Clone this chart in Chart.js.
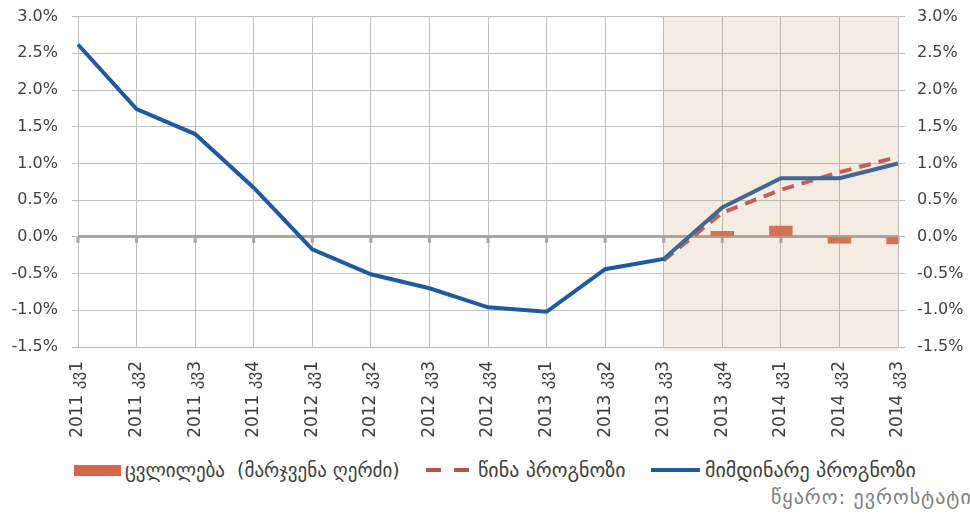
<!DOCTYPE html>
<html>
<head>
<meta charset="utf-8">
<script src="https://cdn.jsdelivr.net/npm/chart.js@4.4.1/dist/chart.umd.min.js"></script>
<style>
  html, body { margin: 0; padding: 0; background: #fff; overflow: hidden; }
  #wrap { position: relative; width: 970px; height: 515px; overflow: hidden; }
  #plot { position: absolute; left: 0; top: -7px; width: 970px; height: 455px; }
  .leg { position: absolute; font-family: "DejaVu Sans", sans-serif; color: #404040;
         font-size: 20px; white-space: pre; line-height: 22px; }
  .src { position: absolute; font-family: "DejaVu Sans", sans-serif; color: #808080;
         font-size: 20px; white-space: pre; line-height: 22px; letter-spacing: 1px; }
  svg.key { position: absolute; overflow: visible; }
</style>
</head>
<body>
<div id="wrap">
  <div id="plot"><canvas id="c"></canvas></div>

  <div style="position:absolute;left:74px;top:465px;width:47px;height:11px;background:#D8674A;"></div>
  <div class="leg" style="left:125px;top:459px;font-size:19px;">ცვლილება  (მარჯვენა ღერძი)</div>

  <svg class="key" style="left:426px;top:466px;" width="46" height="8">
    <line x1="0" y1="4" x2="44" y2="4" stroke="#C0504D" stroke-width="4" stroke-dasharray="15 13"/>
  </svg>
  <div class="leg" style="left:478px;top:459px;">წინა პროგნოზი</div>

  <svg class="key" style="left:651px;top:466px;" width="50" height="8">
    <line x1="0" y1="4" x2="49" y2="4" stroke="#1E5AA0" stroke-width="4"/>
  </svg>
  <div class="leg" style="left:705px;top:459px;">მიმდინარე პროგნოზი</div>

  <div class="src" style="left:771px;top:486px;">წყარო: ევროსტატი</div>
</div>

<script>
// Quarters on the horizontal axis
const categories = [
  '2011 კვ1', '2011 კვ2', '2011 კვ3', '2011 კვ4',
  '2012 კვ1', '2012 კვ2', '2012 კვ3', '2012 კვ4',
  '2013 კვ1', '2013 კვ2', '2013 კვ3', '2013 კვ4',
  '2014 კვ1', '2014 კვ2', '2014 კვ3'
];

// Current forecast, % (solid blue line)
const currentForecast = [2.62, 1.74, 1.40, 0.67, -0.17, -0.51, -0.70, -0.96, -1.02, -0.44, -0.30, 0.40, 0.80, 0.80, 1.00];

// Previous forecast, % (dashed red line)
const previousForecast = [null, null, null, null, null, null, null, null, null, null, -0.32, 0.33, 0.64, 0.88, 1.09];

// Revision between the two forecasts, % (bars, right axis)
const change = [null, null, null, null, null, null, null, null, null, null, null, 0.08, 0.15, -0.09, -0.10];

// Value axes
const axisMin = -1.5;
const axisMax = 3.0;
const axisStep = 0.5;

// First quarter of the forecast period (shaded)
const forecastFrom = '2013 კვ3';

const tickFont = { family: 'DejaVu Sans', size: 16 };
const catFont = { family: 'DejaVu Sans', size: 17 };
const pct = v => v.toFixed(1) + '%';

// Small tick marks hanging below the zero line at each quarter
const zeroTicks = {
  id: 'zeroTicks',
  beforeDatasetsDraw(chart) {
    const { ctx, scales: { x, y } } = chart;
    const y0 = y.getPixelForValue(0);
    ctx.save();
    ctx.fillStyle = '#A6A6A6';
    categories.forEach((c, i) => {
      const px = x.getPixelForValue(i);
      ctx.fillRect(px - 1.5, y0, 3, 6);
    });
    ctx.restore();
  }
};

// Translucent wash over the forecast period
const forecastShade = {
  id: 'forecastShade',
  afterDatasetsDraw(chart) {
    const { ctx, chartArea, scales: { x } } = chart;
    const x0 = x.getPixelForValue(categories.indexOf(forecastFrom));
    ctx.save();
    ctx.fillStyle = 'rgba(200,160,110,0.2)';
    ctx.fillRect(x0, chartArea.top, chartArea.right - x0, chartArea.bottom - chartArea.top + 4);
    ctx.restore();
  }
};

new Chart(document.getElementById('c'), {
  type: 'line',
  data: {
    labels: categories,
    datasets: [
      {
        type: 'line',
        label: 'მიმდინარე პროგნოზი',
        data: currentForecast,
        borderColor: '#1E5AA0',
        borderWidth: 4,
        pointRadius: 0,
        tension: 0,
        yAxisID: 'y',
        order: 1
      },
      {
        type: 'line',
        label: 'წინა პროგნოზი',
        data: previousForecast,
        borderColor: '#C0504D',
        borderWidth: 4,
        borderDash: [12, 8],
        pointRadius: 0,
        tension: 0,
        spanGaps: false,
        yAxisID: 'y',
        order: 2
      },
      {
        type: 'bar',
        label: 'ცვლილება  (მარჯვენა ღერძი)',
        data: change,
        backgroundColor: '#D8674A',
        borderWidth: 0,
        categoryPercentage: 1,
        barPercentage: 0.4,
        yAxisID: 'y2',
        order: 3
      }
    ]
  },
  options: {
    responsive: true,
    maintainAspectRatio: false,
    animation: false,
    events: [],
    layout: { padding: { top: 8, left: 0, right: 0, bottom: 0 } },
    plugins: { legend: { display: false }, tooltip: { enabled: false } },
    scales: {
      x: {
        type: 'category',
        offset: false,
        grid: { offset: false, color: '#BFBFBF', lineWidth: 1, drawTicks: false },
        border: { display: false },
        ticks: {
          autoSkip: false, maxRotation: 90, minRotation: 90,
          padding: 14, color: '#404040', font: catFont
        },
        afterFit(s) { s.height = 101; }
      },
      y: {
        position: 'left',
        min: axisMin, max: axisMax,
        grid: {
          color: c => (Math.abs(c.tick.value) < 1e-9 ? '#A6A6A6' : '#BFBFBF'),
          lineWidth: c => (Math.abs(c.tick.value) < 1e-9 ? 3 : 1),
          tickLength: 6, tickWidth: 1, tickColor: '#BFBFBF'
        },
        border: { display: false },
        ticks: { stepSize: axisStep, padding: 14, color: '#404040', font: tickFont, callback: pct },
        afterFit(s) { s.width = 78; }
      },
      y2: {
        position: 'right',
        min: axisMin, max: axisMax,
        grid: { drawOnChartArea: false, tickLength: 7, tickWidth: 1, tickColor: '#BFBFBF' },
        border: { display: false },
        ticks: { stepSize: axisStep, padding: 12, color: '#404040', font: tickFont, callback: pct },
        afterFit(s) { s.width = 72; }
      }
    }
  },
  plugins: [zeroTicks, forecastShade]
});
</script>
</body>
</html>
